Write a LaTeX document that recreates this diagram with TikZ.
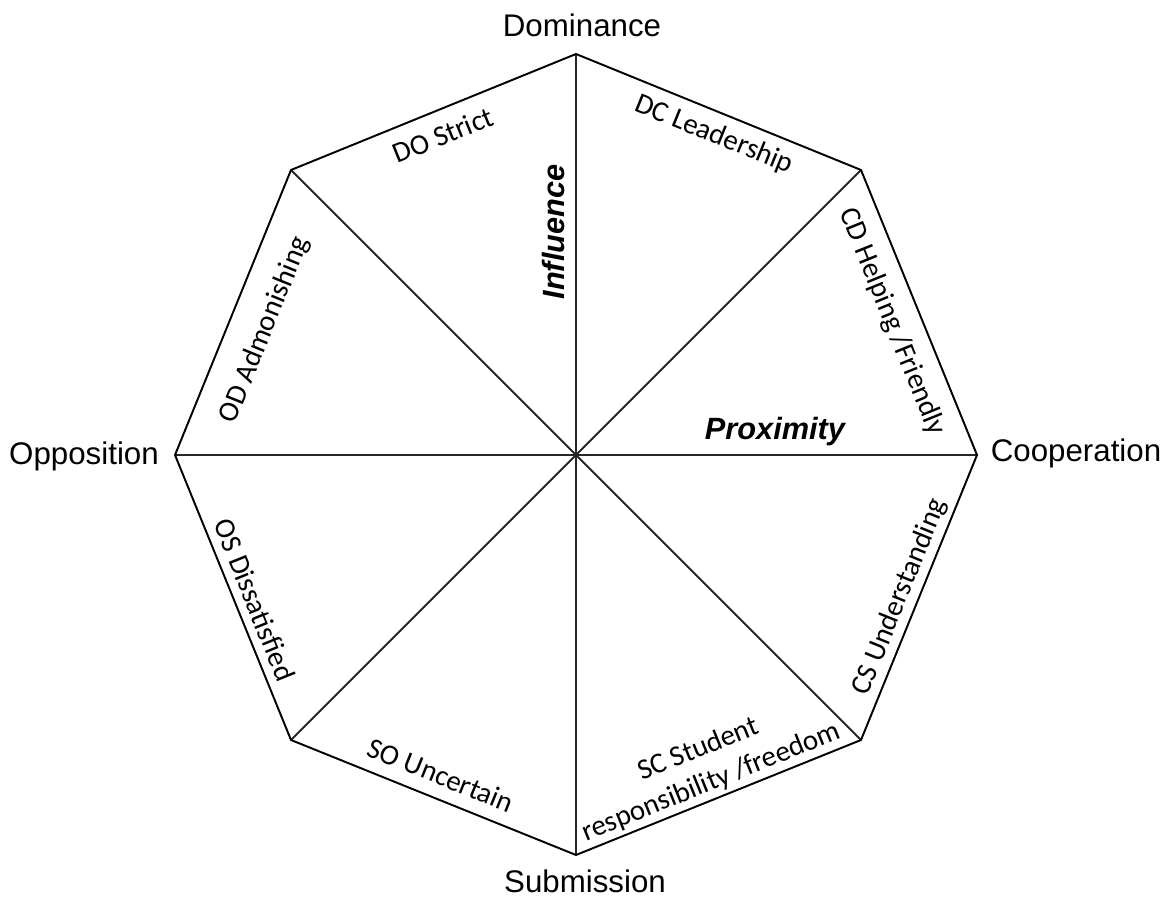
\documentclass[tikz,border=0pt]{standalone}
\usepackage{fontspec}
\setmainfont{Liberation Sans}
\newfontfamily\segfont{Carlito}
\begin{document}
\begin{tikzpicture}[x=0.02cm,y=-0.02cm,
  edge/.style={line width=1.1pt,line join=miter},
  spoke/.style={line width=1.1pt,draw=black!85},
  axislab/.style={inner sep=0pt,font=\fontsize{17.8}{21}\selectfont},
  seglab/.style={inner sep=0pt,font=\segfont\fontsize{16.5}{20}\selectfont},
  dimlab/.style={inner sep=0pt,font=\bfseries\itshape\fontsize{17.5}{21}\selectfont}]
\useasboundingbox (0,0) rectangle (1176,901);
\coordinate (C) at (576,455);
\coordinate (vR) at (977,455);
\coordinate (vTR) at (861,170);
\coordinate (vT) at (576,54);
\coordinate (vTL) at (291,170);
\coordinate (vL) at (175,455);
\coordinate (vBL) at (291,740);
\coordinate (vB) at (576,855);
\coordinate (vBR) at (861,740);
\foreach \v in {vR,vTR,vT,vTL,vL,vBL,vB,vBR}{\draw[spoke] (C) -- (\v);}
\draw[edge] (vR) -- (vTR) -- (vT) -- (vTL) -- (vL) -- (vBL) -- (vB) -- (vBR) -- cycle;
% axis labels
\node[axislab] (dom) at (582,25) {Dominance};
\node[axislab] (opp) at (84,456) {Opposition};
\node[axislab] (coop) at (1076,453) {Cooperation};
\node[axislab] (sub) at (585,881) {Submission};
% dimension labels
\node[dimlab,rotate=90] (infl) at (554,232) {Influence};
\node[dimlab] (prox) at (775,432) {Proximity};
% segment labels
\node[seglab,rotate=22] (do) at (443,135) {DO Strict};
\node[seglab,rotate=-22] (dc) at (714,135) {DC Leadership};
\node[seglab,rotate=-68] (cd) at (892,322) {CD Helping /Friendly};
\node[seglab,rotate=68] (cs) at (900,597) {CS Understanding};
\node[seglab,rotate=22,align=center] (sc) at (705,766) {SC Student\\responsibility /freedom};
\node[seglab,rotate=-22] (so) at (441,775) {SO Uncertain};
\node[seglab,rotate=-68] (os) at (255,600) {OS Dissatisfied};
\node[seglab,rotate=68] (od) at (265,330) {OD Admonishing};
\end{tikzpicture}
\end{document}
